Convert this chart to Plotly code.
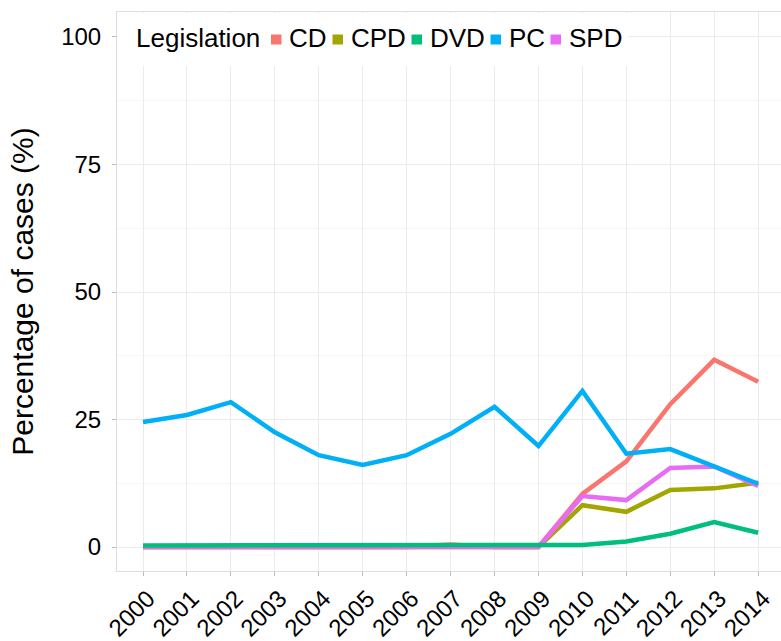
import plotly.graph_objects as go

# ---- data ----
years = list(range(2000, 2015))
series_names = ["CD", "CPD", "DVD", "PC", "SPD"]
cd = [0, 0, 0, 0, 0, 0, 0, 0.5, 0, 0, 10.4, 16.8, 28.0, 36.7, 32.4]
cpd = [0, 0, 0, 0, 0, 0, 0, 0, 0, 0, 8.2, 6.9, 11.2, 11.5, 12.6]
dvd = [0.3, 0.3, 0.3, 0.3, 0.3, 0.3, 0.3, 0.3, 0.3, 0.3, 0.4, 1.1, 2.6, 4.9, 2.8]
pc = [24.5, 25.9, 28.4, 22.5, 18.0, 16.1, 18.0, 22.2, 27.5, 19.8, 30.6, 18.3, 19.2, 15.9, 12.4]
spd = [0, 0, 0, 0, 0, 0, 0, 0, 0, 0, 10.0, 9.2, 15.5, 15.8, 12.0]
y_ticks = [0, 25, 50, 75, 100]
colors = ["#F8766D", "#A3A500", "#00BF7D", "#00B0F6", "#E76BF3"]
values = [cd, cpd, dvd, pc, spd]

# ---- layout constants (pixels) ----
W, H = 781, 641
ML, MR, MT, MB = 117, 0, 12, 70
PW, PH = W - ML - MR, H - MT - MB


def px_x(p):
    return (p - ML) / PW


def px_y(p):
    return (H - MB - p) / PH


fig = go.Figure()
order = [0, 1, 4, 2, 3]
for i in order:
    fig.add_trace(go.Scatter(x=years, y=values[i], mode="lines", name=series_names[i],
                             line=dict(color=colors[i], width=4.5),
                             showlegend=False, hoverinfo="skip"))

# ---- manual legend (ggplot style) ----
shapes = [dict(type="rect", xref="paper", yref="paper", layer="above",
               x0=px_x(118), x1=px_x(628), y0=px_y(66), y1=px_y(13),
               fillcolor="white", line=dict(width=0))]
annotations = [dict(text="Legislation", xref="paper", yref="paper",
                    x=px_x(134), y=px_y(37.5), xanchor="left", yanchor="middle",
                    showarrow=False, font=dict(size=26, color="black"))]
square_x = [271, 332.5, 411.5, 490.5, 550.5]
for i, name in enumerate(series_names):
    sx = square_x[i]
    shapes.append(dict(type="rect", xref="paper", yref="paper", layer="above",
                       x0=px_x(sx), x1=px_x(sx + 10.5), y0=px_y(44.5), y1=px_y(34.5),
                       fillcolor=colors[i], line=dict(width=0)))
    annotations.append(dict(text=name, xref="paper", yref="paper",
                            x=px_x(sx + 16), y=px_y(37.5), xanchor="left", yanchor="middle",
                            showarrow=False, font=dict(size=26, color="black")))

fig.update_layout(
    width=W, height=H,
    margin=dict(l=ML, r=MR, t=MT, b=MB, autoexpand=False),
    paper_bgcolor="white", plot_bgcolor="white",
    font=dict(family="Liberation Sans, Arial, sans-serif", color="black"),
    showlegend=False,
    shapes=shapes, annotations=annotations,
    xaxis=dict(range=[1999.408, 2014.52], tickmode="array", tickvals=years,
               ticktext=[str(y) for y in years], tickangle=-45,
               tickfont=dict(size=24), showgrid=True, gridcolor="#EBEBEB",
               showline=True, mirror=True, linecolor="#DDDDDD", zeroline=False,
               ticks="outside", ticklen=4, tickcolor="#BBBBBB",
               ticklabelshift=5, ticklabelstandoff=-1, automargin=False),
    yaxis=dict(range=[-4.7, 104.9], tickvals=y_ticks,
               tickfont=dict(size=24), showgrid=True, gridcolor="#EBEBEB",
               minor=dict(showgrid=True, gridcolor="#F5F5F5", dtick=12.5, tick0=0),
               showline=True, mirror=True, linecolor="#DDDDDD", zeroline=False,
               ticks="outside", ticklen=4, tickcolor="#BBBBBB",
               ticklabelstandoff=6, automargin=False,
               title=dict(text="Percentage of cases (%)", font=dict(size=30), standoff=18)),
)

fig.write_html("out.html", config={"displayModeBar": False},
               post_script="document.body.style.margin='0';document.body.style.overflow='hidden';")
